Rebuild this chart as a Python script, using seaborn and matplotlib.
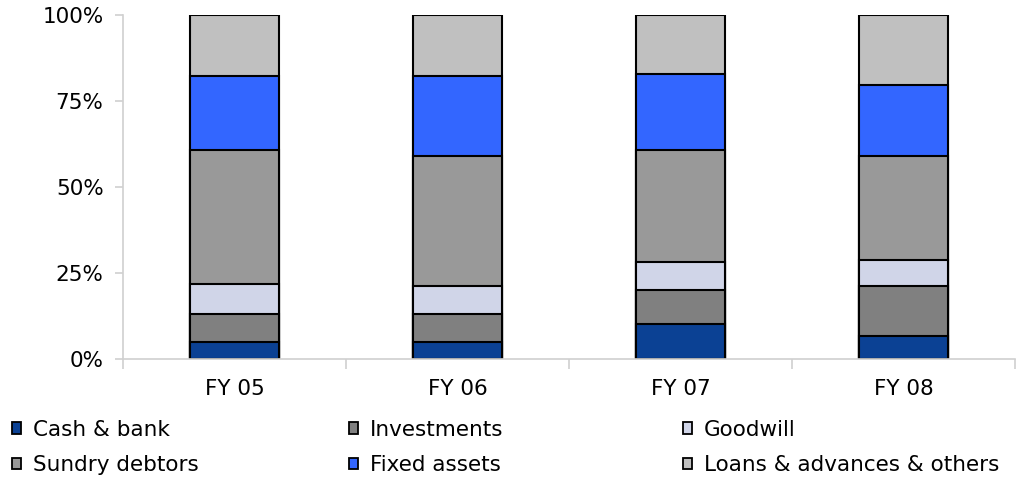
import numpy as np
import pandas as pd
import matplotlib
matplotlib.use("Agg")
import matplotlib.pyplot as plt
from matplotlib.patches import Patch
import seaborn as sns

# Asset mix by year (% of total assets)
years = ["FY 05", "FY 06", "FY 07", "FY 08"]
cash_bank = [5.0, 5.0, 10.3, 6.8]
investments = [8.3, 8.3, 9.8, 14.6]
goodwill = [8.7, 8.1, 8.2, 7.6]
sundry_debtors = [38.8, 37.8, 32.4, 30.2]
fixed_assets = [21.6, 23.2, 22.2, 20.4]
loans_advances = [17.6, 17.6, 17.1, 20.4]

series_names = ["Cash & bank", "Investments", "Goodwill",
                "Sundry debtors", "Fixed assets", "Loans & advances & others"]
series_values = [cash_bank, investments, goodwill,
                 sundry_debtors, fixed_assets, loans_advances]
colors = ["#0B4194", "#808080", "#D0D5E8", "#999999", "#3366FF", "#C0C0C0"]
y_ticks = [0, 25, 50, 75, 100]
y_tick_labels = ["0%", "25%", "50%", "75%", "100%"]

sns.set_style("white")
plt.rcParams["font.family"] = ["DejaVu Sans"]

fig = plt.figure(figsize=(10.17, 4.78), dpi=100)
ax = fig.add_axes([0.121, 0.2483, 0.877, 0.7197])

# Stacked bars: cumulative tops drawn from the highest layer down
df = pd.DataFrame({"year": years})
cum = np.zeros(len(years))
tops = []
for name, vals in zip(series_names, series_values):
    cum = cum + np.array(vals)
    tops.append(cum.copy())
for name, top, col in reversed(list(zip(series_names, tops, colors))):
    df["top"] = top
    sns.barplot(data=df, x="year", y="top", color=col, width=0.4,
                edgecolor="black", linewidth=1.5, saturation=1, ax=ax)

ax.set_xlim(-0.5, len(years) - 0.5)
ax.set_ylim(0, 100)
ax.set_xlabel("")
ax.set_ylabel("")
ax.set_yticks(y_ticks)
ax.set_yticklabels(y_tick_labels)
ax.set_xticks(np.arange(len(years)))
ax.set_xticklabels(years)
ax.set_xticks(np.arange(len(years) + 1) - 0.5, minor=True)

for s in ["top", "right"]:
    ax.spines[s].set_visible(False)
for s in ["left", "bottom"]:
    ax.spines[s].set_color("#D0D0D0")
    ax.spines[s].set_linewidth(1.2)

ax.tick_params(axis="y", which="major", left=True, length=6, width=1.2,
               color="#D0D0D0", labelsize=15.5, labelcolor="#000000", pad=8)
ax.tick_params(axis="x", which="major", bottom=False, length=0,
               labelsize=15.5, labelcolor="#000000", pad=14)
ax.tick_params(axis="x", which="minor", bottom=True, length=7, width=1.2,
               color="#D0D0D0")

# Legend: three columns of two entries each
col_x = [12 / 1017, 349 / 1017, 683 / 1017]
for i, x in enumerate(col_x):
    idx = [i, i + 3]
    handles = [Patch(facecolor=colors[j], edgecolor="black", linewidth=1.3)
               for j in idx]
    labels = [series_names[j] for j in idx]
    leg = fig.legend(handles, labels, loc="center left",
                     bbox_to_anchor=(x, 0.064), frameon=False, fontsize=15.5,
                     handlelength=0.42, handleheight=0.45, handletextpad=0.55,
                     labelspacing=0.72, borderpad=0, borderaxespad=0)
    for t in leg.get_texts():
        t.set_color("#000000")

fig.savefig("out.png", dpi=100)
